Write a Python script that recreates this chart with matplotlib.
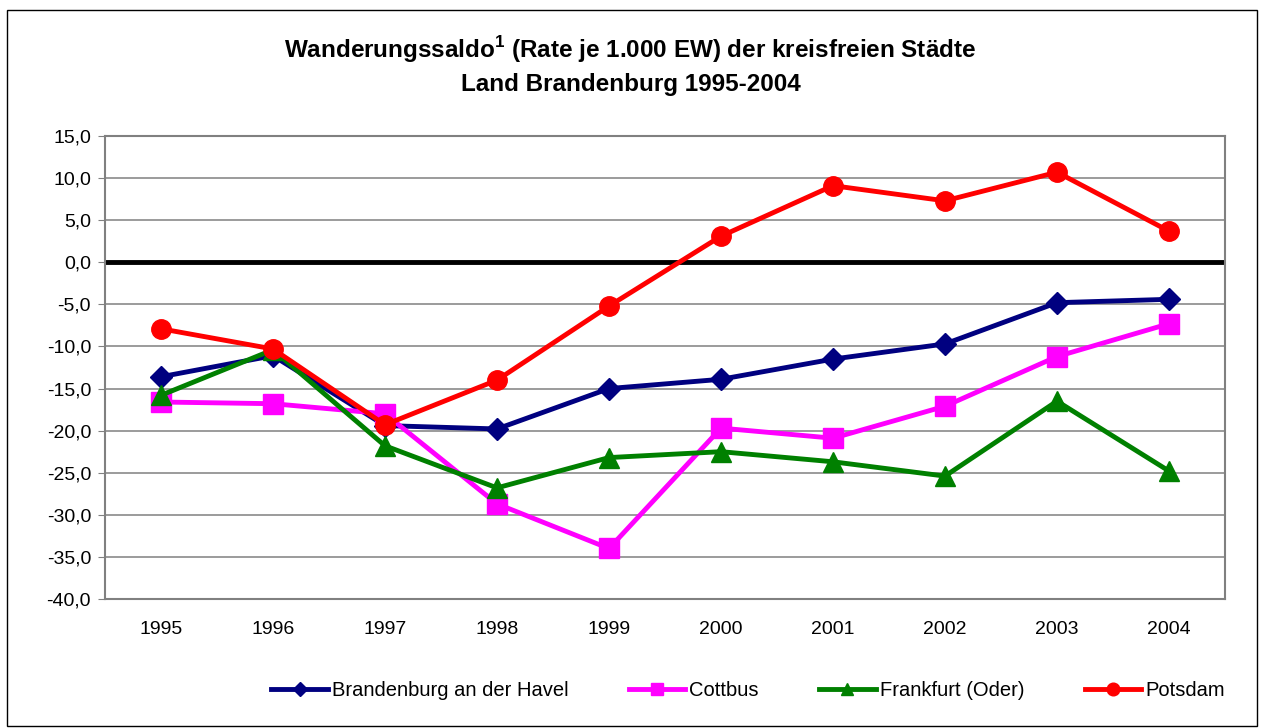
import matplotlib
matplotlib.use("Agg")
import matplotlib.pyplot as plt
from matplotlib.patches import Rectangle

plt.rcParams['font.family'] = ['Liberation Sans', 'DejaVu Sans']
plt.rcParams['mathtext.fontset'] = 'custom'
plt.rcParams['mathtext.rm'] = 'Liberation Sans'
plt.rcParams['mathtext.bf'] = 'Liberation Sans:bold'

years = ['1995', '1996', '1997', '1998', '1999', '2000', '2001', '2002', '2003', '2004']
brandenburg = [-13.6, -11.1, -19.4, -19.8, -15.0, -13.9, -11.5, -9.7, -4.8, -4.4]
cottbus = [-16.6, -16.8, -18.0, -28.7, -34.0, -19.7, -20.9, -17.1, -11.2, -7.3]
frankfurt = [-15.8, -10.4, -21.8, -26.8, -23.2, -22.5, -23.7, -25.4, -16.5, -24.8]
potsdam = [-7.9, -10.3, -19.3, -14.0, -5.2, 3.1, 9.1, 7.3, 10.7, 3.7]
series_names = ['Brandenburg an der Havel', 'Cottbus', 'Frankfurt (Oder)', 'Potsdam']
yticks = [15, 10, 5, 0, -5, -10, -15, -20, -25, -30, -35, -40]

W, H = 1261, 728
fig = plt.figure(figsize=(W / 100, H / 100), dpi=100)
fig.patches.append(Rectangle((7 / W, 1 - 726 / H), (1257 - 7) / W, (726 - 10) / H,
                             transform=fig.transFigure, fill=False, edgecolor='black', linewidth=1))

ax = fig.add_axes([105 / W, 1 - 599 / H, (1225 - 105) / W, (599 - 136) / H])
x = list(range(len(years)))

ax.set_ylim(-40, 15)
ax.set_xlim(-0.5, len(years) - 0.5)
ax.set_yticks(yticks)
ax.set_yticklabels([f"{v:.1f}".replace('.', ',') for v in yticks])
ax.set_xticks(x)
ax.set_xticklabels(years)
ax.tick_params(axis='both', labelsize=14, length=5, color='#808080')
ax.tick_params(axis='y', pad=5)
ax.tick_params(axis='x', length=0, pad=16)
ax.grid(axis='y', color='#808080', linewidth=1.1)
ax.set_axisbelow(True)
for s in ax.spines.values():
    s.set_color('#808080')
    s.set_linewidth(1.5)
ax.axhline(0, color='black', linewidth=3.5, zorder=2)

ax.plot(x, brandenburg, color='#000080', linewidth=3.5, marker='D', markersize=11, label=series_names[0], zorder=3)
ax.plot(x, cottbus, color='#FF00FF', linewidth=3.5, marker='s', markersize=14, label=series_names[1], zorder=3)
ax.plot(x, frankfurt, color='#008000', linewidth=3.5, marker='^', markersize=14, label=series_names[2], zorder=3)
ax.plot(x, potsdam, color='#FF0000', linewidth=3.5, marker='o', markersize=14, label=series_names[3], zorder=3)

fig.text(0.5, 1 - 50 / H, r'Wanderungssaldo$^\mathbf{1}$ (Rate je 1.000 EW) der kreisfreien Städte',
         ha='center', va='center', fontsize=17.5, fontweight='bold')
fig.text(0.5, 1 - 84 / H, 'Land Brandenburg 1995-2004',
         ha='center', va='center', fontsize=17.5, fontweight='bold')

handles, labels = ax.get_legend_handles_labels()
leg = fig.legend(handles, labels, loc='center', bbox_to_anchor=(748 / W, 1 - 691 / H), ncol=4,
                 frameon=False, fontsize=14.5, markerscale=0.65, handlelength=2.8,
                 columnspacing=3.0, handletextpad=0.2)

fig.savefig('out.png', dpi=100)
